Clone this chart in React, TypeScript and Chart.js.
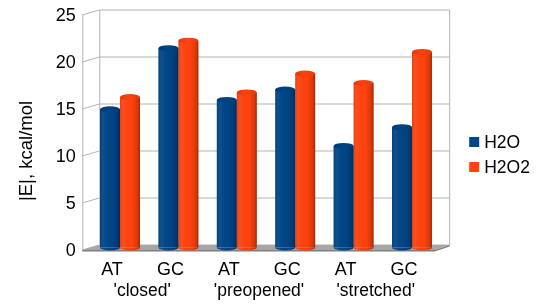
import React, { useEffect, useRef } from "react";
import { Chart, registerables } from "chart.js";

Chart.register(...registerables);

const categories = ["AT", "GC", "AT", "GC", "AT", "GC"];
const groupLabels = ["'closed'", "'preopened'", "'stretched'"];
const seriesNames = ["H2O", "H2O2"];
const h2oValues = [14.7, 21.2, 15.7, 16.8, 10.8, 12.8];
const h2o2Values = [16.0, 22.0, 16.5, 18.5, 17.5, 20.8];
const seriesColors = ["#004586", "#ff420e"];
const capColors = ["#003a70", "#e23a0b"];
const yTicks = [0, 5, 10, 15, 20, 25];
const yTitle = "|E|, kcal/mol";

const FONT = "'Liberation Sans', Arial, sans-serif";
const DX = 8.5;
const DY = 2.5;

const scenePlugin = {
  id: "scene",
  beforeDatasetsDraw(chart: any) {
    const ctx = chart.ctx;
    const { left: L, right: R, top: T, bottom: B } = chart.chartArea;
    const ys = chart.scales.y;
    ctx.save();
    ctx.strokeStyle = "#b3b3b3";
    ctx.lineWidth = 1;
    ctx.fillStyle = "#ffffff";
    ctx.fillRect(L + DX, T - DY, R - L, B - T);
    yTicks.forEach((v) => {
      const y = ys.getPixelForValue(v);
      ctx.beginPath();
      ctx.moveTo(L - DX, y + DY);
      ctx.lineTo(L + DX, y - DY);
      ctx.lineTo(R + DX, y - DY);
      ctx.stroke();
    });
    ctx.beginPath();
    ctx.moveTo(L + DX + 0.5, ys.getPixelForValue(25) - DY);
    ctx.lineTo(L + DX + 0.5, B - DY);
    ctx.moveTo(R + DX, ys.getPixelForValue(25) - DY);
    ctx.lineTo(R + DX, B - DY);
    ctx.moveTo(L - DX + 0.5, ys.getPixelForValue(25) + DY);
    ctx.lineTo(L - DX + 0.5, B + DY);
    ctx.stroke();
    const y0 = ys.getPixelForValue(0);
    ctx.fillStyle = "#a6a6a6";
    ctx.beginPath();
    ctx.moveTo(L - DX, y0 + DY);
    ctx.lineTo(L + DX, y0 - DY);
    ctx.lineTo(R + DX, y0 - DY);
    ctx.lineTo(R - DX + 2, y0 + DY);
    ctx.closePath();
    ctx.fill();
    ctx.fillStyle = "#7f7f7f";
    ctx.beginPath();
    ctx.moveTo(L - DX, y0 + DY);
    ctx.lineTo(R - DX + 2, y0 + DY);
    ctx.lineTo(R + DX, y0 - DY);
    ctx.lineTo(R + DX, y0 - DY + 1.5);
    ctx.lineTo(R - DX + 2, y0 + DY + 1.5);
    ctx.lineTo(L - DX, y0 + DY + 1.5);
    ctx.closePath();
    ctx.fill();
    ctx.restore();
  },
  afterDatasetsDraw(chart: any) {
    const ctx = chart.ctx;
    ctx.save();
    chart.data.datasets.forEach((ds: any, di: number) => {
      const meta = chart.getDatasetMeta(di);
      meta.data.forEach((el: any) => {
        const { x, y, base, width } = el.getProps(["x", "y", "base", "width"], true);
        const l = x - width / 2;
        const r = x + width / 2;
        const ry = 3;
        ctx.fillStyle = seriesColors[di];
        ctx.beginPath();
        ctx.ellipse(x, base, width / 2, ry, 0, 0, Math.PI);
        ctx.fill();
        const g = ctx.createLinearGradient(l, 0, r, 0);
        g.addColorStop(0, "rgba(0,0,0,0.08)");
        g.addColorStop(0.15, "rgba(255,255,255,0.06)");
        g.addColorStop(0.6, "rgba(0,0,0,0)");
        g.addColorStop(0.88, "rgba(0,0,0,0.16)");
        g.addColorStop(1, "rgba(0,0,0,0.36)");
        ctx.fillStyle = g;
        ctx.beginPath();
        ctx.moveTo(l, y);
        ctx.lineTo(r, y);
        ctx.lineTo(r, base);
        ctx.ellipse(x, base, width / 2, ry, 0, 0, Math.PI);
        ctx.closePath();
        ctx.fill();
        const gc = ctx.createLinearGradient(l, 0, r, 0);
        gc.addColorStop(0, capColors[di]);
        gc.addColorStop(0.5, seriesColors[di]);
        gc.addColorStop(1, capColors[di]);
        ctx.fillStyle = gc;
        ctx.beginPath();
        ctx.ellipse(x, y, width / 2, ry, 0, 0, Math.PI * 2);
        ctx.fill();
      });
    });
    ctx.restore();
  },
  afterDraw(chart: any) {
    const ctx = chart.ctx;
    const { right: R, top: T, bottom: B } = chart.chartArea;
    const mid = (T + B) / 2;
    ctx.save();
    ctx.font = `17.5px ${FONT}`;
    ctx.textBaseline = "middle";
    ctx.textAlign = "left";
    seriesNames.forEach((name, i) => {
      const cy = mid + 12 + i * 25;
      ctx.fillStyle = seriesColors[i];
      ctx.fillRect(R + 28, cy - 5, 10, 10);
      ctx.fillStyle = "#000000";
      ctx.fillText(name, R + 43, cy + 1);
    });
    ctx.translate(27, mid + 21);
    ctx.rotate(-Math.PI / 2);
    ctx.textAlign = "center";
    ctx.font = `18.5px ${FONT}`;
    ctx.fillText(yTitle, 0, 0);
    ctx.restore();
  },
};

export default function App() {
  const ref = useRef<HTMLCanvasElement>(null);
  useEffect(() => {
    if (!ref.current) return;
    const chart = new Chart(ref.current, {
      type: "bar",
      data: {
        labels: categories,
        datasets: [
          { label: seriesNames[0], data: h2oValues, backgroundColor: seriesColors[0], borderWidth: 0 },
          { label: seriesNames[1], data: h2o2Values, backgroundColor: seriesColors[1], borderWidth: 0 },
        ],
      },
      options: {
        animation: false,
        responsive: true,
        maintainAspectRatio: false,
        layout: { padding: { top: 12.5, right: 103.8, left: 0, bottom: 0 } },
        datasets: { bar: { categoryPercentage: 0.685, barPercentage: 1 } },
        plugins: { legend: { display: false }, tooltip: { enabled: false } },
        scales: {
          x: {
            type: "category",
            grid: { display: false, drawTicks: false },
            border: { display: false },
            ticks: { color: "#000", font: { family: FONT, size: 18 }, padding: 12, labelOffset: -8, maxRotation: 0, autoSkip: false },
            afterFit: (s: any) => { s.height = 40; s.paddingLeft = 0; s.paddingRight = 0; },
          },
          x2: {
            type: "category",
            labels: groupLabels,
            position: "bottom",
            grid: { display: false, drawTicks: false },
            border: { display: false },
            ticks: { color: "#000", font: { family: FONT, size: 17.5 }, padding: -14.5, labelOffset: -7, mirror: true, maxRotation: 0, autoSkip: false },
            afterFit: (s: any) => { s.height = 19.5; s.paddingLeft = 0; s.paddingRight = 0; },
          },
          y: {
            min: 0,
            max: 25,
            grid: { display: false, drawTicks: false },
            border: { display: false },
            ticks: { stepSize: 5, color: "#000", font: { family: FONT, size: 18 }, padding: 15, labelOffset: 4 },
            afterFit: (s: any) => { s.width = 90.8; s.paddingTop = 0; s.paddingBottom = 0; },
          },
        },
      },
      plugins: [scenePlugin],
    });
    return () => chart.destroy();
  }, []);
  return (
    <div style={{ position: "absolute", left: 0, top: 0, width: 545, height: 307 }}>
      <canvas ref={ref} />
    </div>
  );
}
